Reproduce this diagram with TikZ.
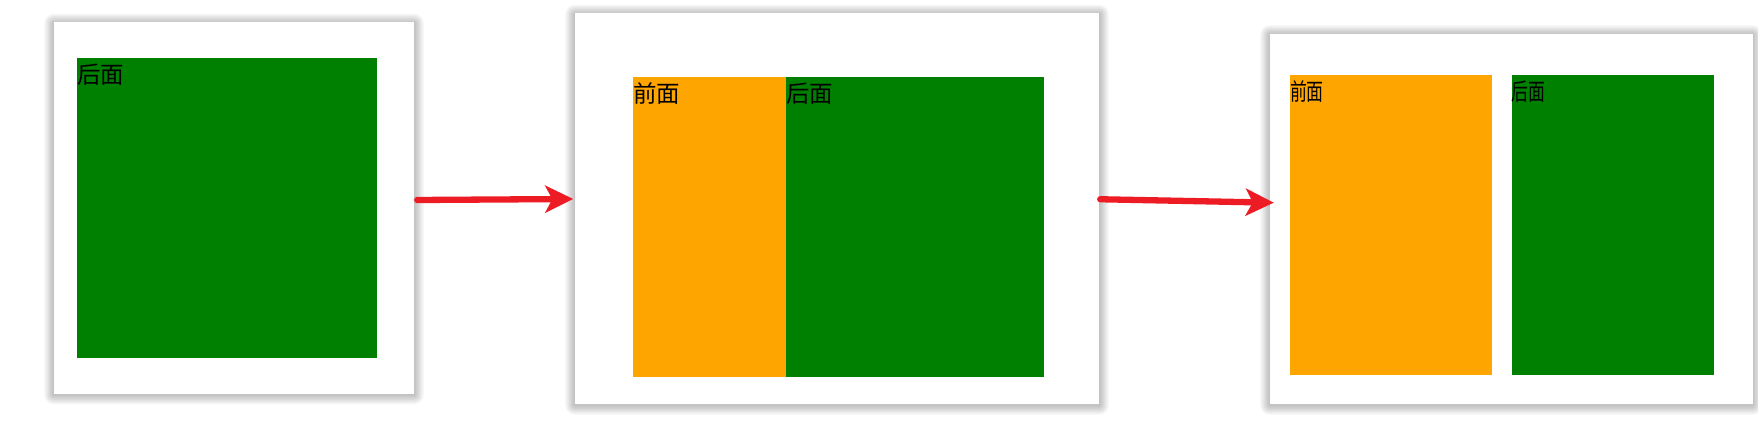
\documentclass[tikz,border=0pt]{standalone}
\usepackage{fontspec}
\usepackage{graphicx}
\newfontfamily\cjk{Noto Sans CJK SC}
\usetikzlibrary{arrows.meta,backgrounds}
\definecolor{cssgreen}{RGB}{0,128,0}
\definecolor{cssorange}{RGB}{255,165,0}
\definecolor{arrowred}{HTML}{ED1C24}
\tikzset{
  panel/.style={rectangle, fill=white, draw=none, inner sep=0},
  shadowring/.style={fill=black, opacity=0.032},
  block/.style={rectangle, draw=none, inner sep=0, minimum height=300},
  label/.style={anchor=north west, inner sep=0, font=\cjk\fontsize{23.5}{26}\selectfont, text=black},
  flow/.style={draw=arrowred, line width=6.3pt, line cap=round,
    -{Stealth[length=28pt, width=27pt, inset=7pt]}}
}
\begin{document}
\begin{tikzpicture}[x=1pt,y=-1pt]
\useasboundingbox (0,0) rectangle (1758,427);
% panel 1
\node[panel, minimum width=360, minimum height=371] (p1) at (234,208) {};
\node[block, fill=cssgreen, minimum width=300] (g1) at (227,208) {};
\node[label, yshift=-6pt] (t1) at (g1.north west) {后面};
% panel 2
\node[panel, minimum width=524, minimum height=390.5] (p2) at (837,208.75) {};
\node[block, fill=cssorange, minimum width=152.7] (o2) at (709.65,226.7) {};
\node[block, fill=cssgreen, minimum width=258] (g2) at (915,226.7) {};
\node[label, yshift=-6pt] (t2a) at (o2.north west) {前面};
\node[label, yshift=-6pt] (t2b) at (g2.north west) {后面};
% panel 3
\node[panel, minimum width=482.5, minimum height=370] (p3) at (1511.25,219) {};
\node[block, fill=cssorange, minimum width=202] (o3) at (1391,225) {};
\node[block, fill=cssgreen, minimum width=202.3] (g3) at (1612.85,225) {};
\node[label, yshift=-6pt] (t3a) at (o3.north west) {\scalebox{0.72}[1]{前面}};
\node[label, yshift=-6pt] (t3b) at (g3.north west) {\scalebox{0.72}[1]{后面}};
% shadows
\begin{pgfonlayer}{background}
  \fill[white] (0,0) rectangle (1758,427);
  \foreach \p in {p1,p2,p3}{
    \foreach \r in {1,...,8}{
      \fill[shadowring, rounded corners=1.2*\r pt]
        ([xshift=-1.2*\r pt, yshift=1.2*\r pt - 1pt]\p.north west) rectangle
        ([xshift=1.2*\r pt, yshift=-1.2*\r pt - 1pt]\p.south east);
    }
  }
\end{pgfonlayer}
% arrows
\draw[flow] ([xshift=3pt,yshift=8pt]p1.east) -- ([xshift=-1.5pt,yshift=9.75pt]p2.west);
\draw[flow] ([xshift=1pt,yshift=9.5pt]p2.east) -- ([xshift=4pt,yshift=16.3pt]p3.west);
\end{tikzpicture}
\end{document}
